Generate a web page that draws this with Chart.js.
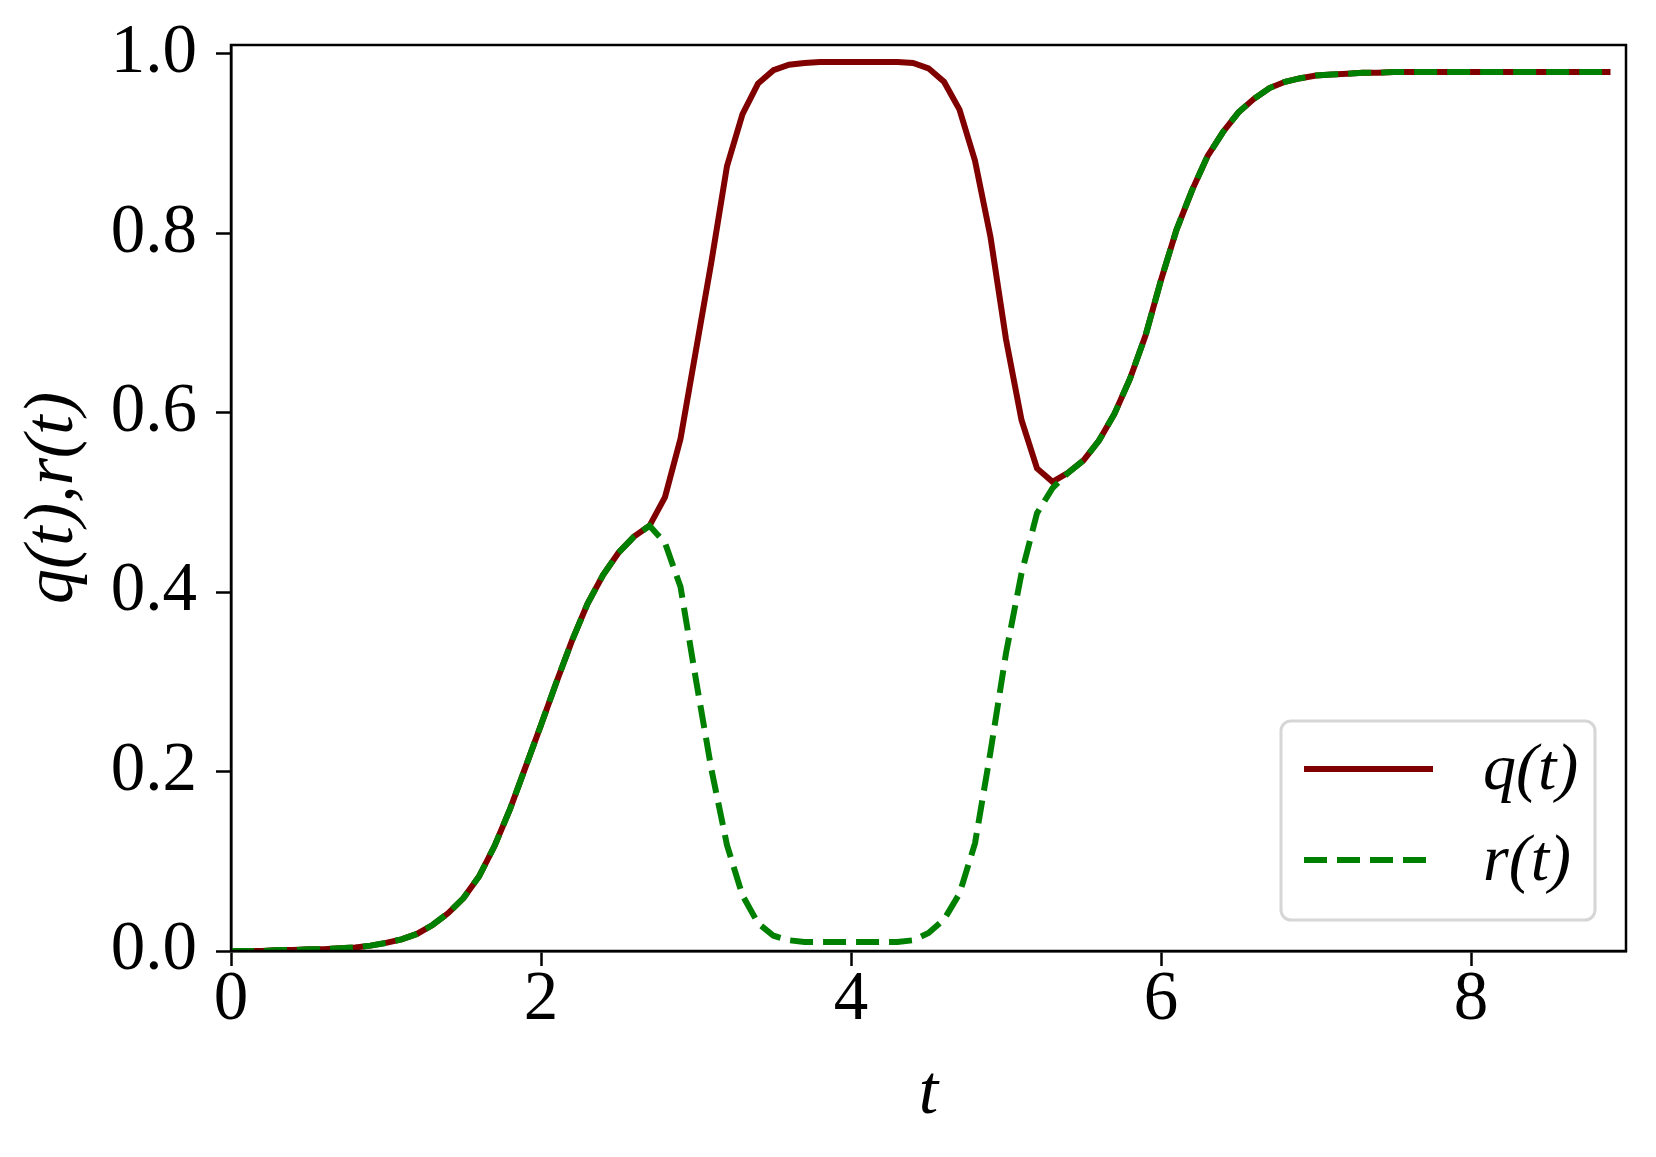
<!DOCTYPE html>
<html>
<head>
<meta charset="utf-8">
<script src="https://cdn.jsdelivr.net/npm/chart.js@4.4.1/dist/chart.umd.min.js"></script>
<style>
  html, body { margin: 0; padding: 0; background: #fff; }
  #wrap { width: 1656px; height: 1157px; }
</style>
</head>
<body>
<div id="wrap"><canvas id="chart" width="1656" height="1157"></canvas></div>
<script>
// time samples (step 0.1)
const tValues = [
  0.0, 0.1, 0.2, 0.3, 0.4, 0.5, 0.6, 0.7, 0.8, 0.9,
  1.0, 1.1, 1.2, 1.3, 1.4, 1.5, 1.6, 1.7, 1.8, 1.9,
  2.0, 2.1, 2.2, 2.3, 2.4, 2.5, 2.6, 2.7, 2.8, 2.9,
  3.0, 3.1, 3.2, 3.3, 3.4, 3.5, 3.6, 3.7, 3.8, 3.9,
  4.0, 4.1, 4.2, 4.3, 4.4, 4.5, 4.6, 4.7, 4.8, 4.9,
  5.0, 5.1, 5.2, 5.3, 5.4, 5.5, 5.6, 5.7, 5.8, 5.9,
  6.0, 6.1, 6.2, 6.3, 6.4, 6.5, 6.6, 6.7, 6.8, 6.9,
  7.0, 7.1, 7.2, 7.3, 7.4, 7.5, 7.6, 7.7, 7.8, 7.9,
  8.0, 8.1, 8.2, 8.3, 8.4, 8.5, 8.6, 8.7, 8.8, 8.9
];

const qValues = [
  0.000, 0.000, 0.000, 0.001, 0.001, 0.002, 0.002, 0.003, 0.004, 0.006,
  0.009, 0.013, 0.019, 0.029, 0.042, 0.059, 0.083, 0.117, 0.158, 0.205,
  0.252, 0.300, 0.346, 0.387, 0.419, 0.444, 0.462, 0.474, 0.506, 0.571,
  0.670, 0.769, 0.875, 0.933, 0.967, 0.982, 0.988, 0.990, 0.991, 0.991,
  0.991, 0.991, 0.991, 0.991, 0.990, 0.984, 0.969, 0.938, 0.881, 0.796,
  0.682, 0.592, 0.538, 0.523, 0.533, 0.547, 0.569, 0.599, 0.638, 0.686,
  0.748, 0.804, 0.848, 0.886, 0.913, 0.935, 0.950, 0.962, 0.969, 0.973,
  0.976, 0.977, 0.978, 0.979, 0.979, 0.980, 0.980, 0.980, 0.980, 0.980,
  0.980, 0.980, 0.980, 0.980, 0.980, 0.980, 0.980, 0.980, 0.980, 0.980
];

const rValues = [
  0.000, 0.000, 0.000, 0.001, 0.001, 0.002, 0.002, 0.003, 0.004, 0.006,
  0.009, 0.013, 0.019, 0.029, 0.042, 0.059, 0.083, 0.117, 0.158, 0.205,
  0.252, 0.300, 0.346, 0.387, 0.419, 0.444, 0.462, 0.474, 0.455, 0.406,
  0.302, 0.202, 0.118, 0.062, 0.031, 0.017, 0.012, 0.010, 0.010, 0.010,
  0.010, 0.010, 0.010, 0.010, 0.012, 0.020, 0.035, 0.064, 0.120, 0.222,
  0.332, 0.421, 0.488, 0.516, 0.533, 0.547, 0.569, 0.599, 0.638, 0.686,
  0.748, 0.804, 0.848, 0.886, 0.913, 0.935, 0.950, 0.962, 0.969, 0.973,
  0.976, 0.977, 0.978, 0.979, 0.979, 0.980, 0.980, 0.980, 0.980, 0.980,
  0.980, 0.980, 0.980, 0.980, 0.980, 0.980, 0.980, 0.980, 0.980, 0.980
];

const xTicks = [0, 2, 4, 6, 8];
const yTicks = [0.0, 0.2, 0.4, 0.6, 0.8, 1.0];
const seriesLabels = ['q(t)', 'r(t)'];

const SERIF = "'Times New Roman', 'Liberation Serif', Times, serif";

const toPoints = (ys) => tValues.map((t, i) => ({ x: t, y: ys[i] }));

// black box round the plot area
const framePlugin = {
  id: 'frame',
  afterDatasetsDraw(chart) {
    const { ctx, chartArea: a } = chart;
    ctx.save();
    ctx.strokeStyle = '#000';
    ctx.lineWidth = 2.5;
    ctx.strokeRect(a.left, a.top, a.right - a.left, a.bottom - a.top);
    ctx.restore();
  }
};

// legend in the lower right corner, inside the axes
const innerLegend = {
  id: 'innerLegend',
  afterDraw(chart) {
    const { ctx, chartArea: a } = chart;
    const w = 314, h = 199;
    const x0 = a.right - 345, y0 = a.bottom - 230;
    ctx.save();
    ctx.fillStyle = 'rgba(255,255,255,0.8)';
    ctx.strokeStyle = '#d6d6d6';
    ctx.lineWidth = 3;
    ctx.beginPath();
    ctx.roundRect(x0, y0, w, h, 10);
    ctx.fill();
    ctx.stroke();

    const rows = [y0 + 48, y0 + 139];
    chart.data.datasets.slice().sort((p, q) => p.legendIndex - q.legendIndex).forEach((ds, i) => {
      const y = rows[i];
      ctx.strokeStyle = ds.borderColor;
      ctx.lineWidth = ds.borderWidth;
      ctx.setLineDash(ds.borderDash || []);
      ctx.beginPath();
      ctx.moveTo(x0 + 23, y);
      ctx.lineTo(x0 + 152, y);
      ctx.stroke();
      ctx.setLineDash([]);
      ctx.fillStyle = '#000';
      ctx.font = 'italic 66px ' + SERIF;
      ctx.textBaseline = 'middle';
      ctx.textAlign = 'left';
      ctx.fillText(ds.label, x0 + 202, y + 3);
    });
    ctx.restore();
  }
};

const config = {
  type: 'line',
  data: {
    datasets: [
      {
        label: seriesLabels[1],
        legendIndex: 1,
        data: toPoints(rValues),
        borderColor: '#008000',
        borderWidth: 6,
        borderDash: [23, 10],
        borderCapStyle: 'butt',
        pointRadius: 0,
        tension: 0,
        fill: false,
        order: 0
      },
      {
        label: seriesLabels[0],
        legendIndex: 0,
        data: toPoints(qValues),
        borderColor: '#800000',
        borderWidth: 6,
        pointRadius: 0,
        tension: 0,
        fill: false,
        order: 1
      }
    ]
  },
  options: {
    responsive: false,
    animation: false,
    layout: { padding: { top: 45, right: 30, left: 0, bottom: 0 } },
    plugins: {
      legend: { display: false },
      tooltip: { enabled: false }
    },
    scales: {
      x: {
        type: 'linear',
        min: 0,
        max: 9,
        afterBuildTicks: (scale) => { scale.ticks = xTicks.map(v => ({ value: v })); },
        afterFit: (scale) => {
          scale.height = 206;
          scale.paddingLeft = 0;
          scale.paddingRight = 0;
        },
        ticks: {
          color: '#000',
          font: { family: SERIF, size: 69, lineHeight: 1.0 },
          padding: 0,
          maxRotation: 0,
          callback: (v) => String(v)
        },
        grid: {
          drawOnChartArea: false,
          drawTicks: true,
          tickLength: 15,
          tickColor: '#000',
          tickWidth: 2.5
        },
        border: { display: true, color: '#000', width: 2.5 },
        title: {
          display: true,
          text: 't',
          color: '#000',
          font: { family: SERIF, size: 70, style: 'italic' },
          padding: { top: 0, bottom: 20 }
        }
      },
      y: {
        type: 'linear',
        min: 0,
        max: 1.01,
        afterBuildTicks: (scale) => { scale.ticks = yTicks.map(v => ({ value: v })); },
        afterFit: (scale) => {
          scale.width = 231;
          scale.paddingTop = 0;
          scale.paddingBottom = 0;
        },
        ticks: {
          color: '#000',
          font: { family: SERIF, size: 69, lineHeight: 1.0 },
          padding: 19,
          callback: (v) => v.toFixed(1)
        },
        grid: {
          drawOnChartArea: false,
          drawTicks: true,
          tickLength: 15,
          tickColor: '#000',
          tickWidth: 2.5
        },
        border: { display: true, color: '#000', width: 2.5 },
        title: {
          display: true,
          text: 'q(t),r(t)',
          color: '#000',
          font: { family: SERIF, size: 70, style: 'italic' },
          padding: { top: 12, bottom: 0 }
        }
      }
    }
  },
  plugins: [framePlugin, innerLegend]
};

const myChart = new Chart(document.getElementById('chart'), config);
</script>
</body>
</html>
